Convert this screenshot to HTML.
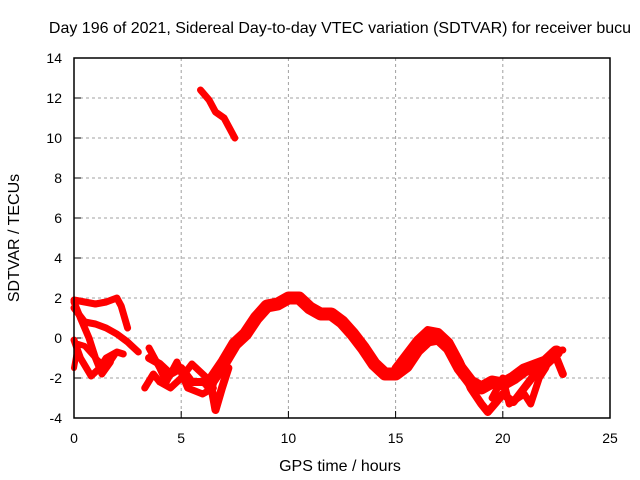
<!DOCTYPE html>
<html><head><meta charset="utf-8"><style>
body{margin:0;background:#fff}
svg{display:block;font-family:"Liberation Sans",sans-serif;font-size:14px}
</style></head><body>
<svg id="chart" width="640" height="480">
<text x="340" y="33" text-anchor="middle" font-size="16">Day 196 of 2021, Sidereal Day-to-day VTEC variation (SDTVAR) for receiver bucu</text>
<text x="340" y="471" text-anchor="middle" font-size="16">GPS time / hours</text>
<text transform="translate(19,238) rotate(-90)" text-anchor="middle" font-size="16">SDTVAR / TECUs</text>
<g id="grid"></g><g id="ticks"></g><g id="series"></g>
<rect x="74" y="58" width="536" height="360" fill="none" stroke="#000" stroke-width="1.5"/>
</svg>
<script>
const xTicks=[0,5,10,15,20,25];
const yTicks=[-4,-2,0,2,4,6,8,10,12,14];
const trackTop=[[5.9,12.4],[6.3,11.9],[6.6,11.3],[7,11],[7.5,10]];
const trackMain=[[6.3,-2.3],[7,-1.2],[7.5,-0.3],[8,0.2],[8.5,1],[9,1.6],[9.5,1.7],[10,2],[10.5,2],[11,1.5],[11.5,1.2],[12,1.2],[12.5,0.8],[13,0.2],[13.5,-0.5],[14,-1.3],[14.5,-1.8],[15,-1.8],[15.5,-1.4],[16,-0.6],[16.5,-0.1],[17,0],[17.5,-0.5],[18,-1.5],[18.5,-2.2],[19,-2.5],[19.5,-2.2],[20,-2.3],[20.5,-2],[21,-1.6],[21.5,-1.4],[22,-1.2],[22.5,-0.7]];
const trackB=[[15,-1.5],[15.5,-0.8],[16,-0.1],[16.5,0.4],[17,0.3],[17.5,-0.2],[18,-1.2],[18.5,-2.5],[19,-3.3],[19.3,-3.7],[19.7,-3.2],[20,-2.8],[20.5,-3.2],[21,-2.5],[21.5,-1.8],[22,-1.1],[22.5,-1],[22.8,-1.8]];
const trackC=[[19.5,-3],[20,-2],[20.3,-3.3],[21,-2.8],[21.3,-3.3],[21.7,-2],[22,-1.5],[22.3,-0.7],[22.8,-0.6]];
const trackD=[[0,1.9],[0.5,1.8],[1,1.7],[1.5,1.8],[2,2],[2.2,1.6],[2.5,0.5]];
const trackE=[[0,1.5],[0.5,0.8],[1,0.7],[1.5,0.5],[2,0.2],[2.5,-0.2],[3,-0.7]];
const trackF=[[0,-0.1],[0.3,-1],[0.8,-1.9],[1.2,-1.5],[1.5,-1],[2,-0.7],[2.3,-0.8]];
const trackG=[[0,1.8],[0.3,1],[0.7,0],[1,-1],[1.3,-1.8],[1.7,-1.2]];
const trackH=[[0,-1.5],[0.2,-0.3],[0.5,-0.4],[1,-1],[1.5,-1.5],[2,-0.7]];
const trackI=[[3.5,-1],[4,-1.3],[4.5,-1.8],[5,-1.5],[5.5,-2.2],[6,-2.2],[6.4,-2.4],[6.6,-3.6],[6.9,-2.5],[7.2,-1.5]];
const trackJ=[[3.3,-2.5],[3.7,-1.8],[4,-2.2],[4.5,-2.5],[5,-2],[5.5,-1.3],[6,-1.8],[6.5,-2.3]];
const trackK=[[3.5,-0.5],[4,-1.5],[4.3,-2.2],[4.8,-1.2],[5.3,-2.5],[6,-2.8],[6.5,-2.5]];
const X=v=>74+v*536/25, Y=v=>418-(v+4)*20;
const NS="http://www.w3.org/2000/svg";
function mk(t,a,p){const e=document.createElementNS(NS,t);for(const k in a)e.setAttribute(k,a[k]);p.appendChild(e);return e;}
const grid=document.getElementById('grid'),ticks=document.getElementById('ticks'),ser=document.getElementById('series');
xTicks.forEach(v=>{
 if(v>0&&v<25){const l=mk('line',{x1:X(v),x2:X(v),y1:58,y2:418,stroke:'#a0a0a0','stroke-dasharray':'3,3'},grid);
 
 }
 mk('line',{x1:X(v),x2:X(v),y1:418,y2:411,stroke:'#000'},ticks);
 const t=mk('text',{x:X(v),y:443,'text-anchor':'middle'},ticks);t.textContent=v;
 
 
});
yTicks.forEach(v=>{
 if(v>-4&&v<14){const l=mk('line',{x1:74,x2:610,y1:Y(v),y2:Y(v),stroke:'#a0a0a0','stroke-dasharray':'3,3'},grid);
 
 }
 mk('line',{x1:74,x2:81,y1:Y(v),y2:Y(v),stroke:'#000'},ticks);
 const t=mk('text',{x:62,y:Y(v)+5,'text-anchor':'end'},ticks);t.textContent=v;
 
 
});
const tracks=[[trackTop,7],[trackMain,13],[trackB,8],[trackC,7],[trackD,7],[trackE,7],[trackF,7],[trackG,7],[trackH,6],[trackI,8],[trackJ,7],[trackK,7]];
tracks.forEach(([d,w],i)=>{
 const p=mk('polyline',{points:d.map(q=>X(q[0])+','+Y(q[1])).join(' '),fill:'none',stroke:'#ff0000','stroke-width':w,'stroke-linejoin':'round','stroke-linecap':'round'},ser);
 
 
});
</script>
</body></html>
